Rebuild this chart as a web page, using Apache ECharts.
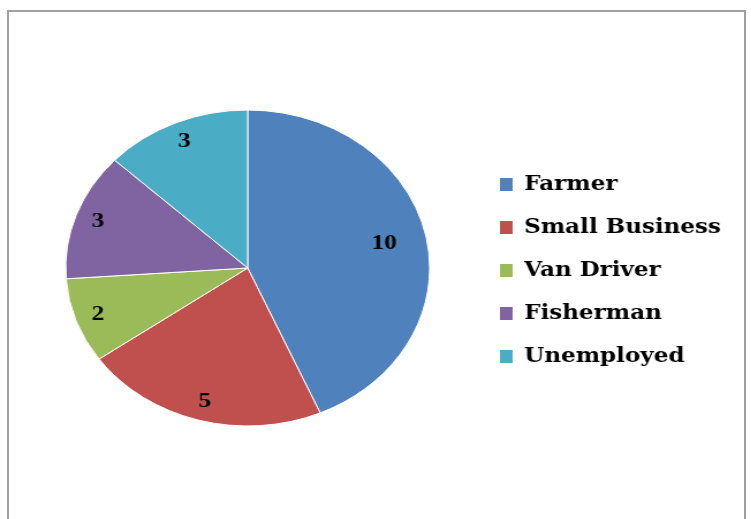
<!DOCTYPE html>
<html>
<head>
<meta charset="utf-8">
<script src="https://cdn.jsdelivr.net/npm/echarts@6/dist/echarts.min.js"></script>
<style>
html,body{margin:0;padding:0;background:#fff;overflow:hidden;width:751px;height:519px;}
#frame{position:absolute;left:7px;top:10px;width:739px;height:540px;border:2px solid #a0a0a0;box-sizing:border-box;}
#chart{position:absolute;left:0;top:0;width:652px;height:519px;transform:scaleX(1.152);transform-origin:0 0;}
</style>
</head>
<body>
<div id="frame"></div>
<div id="chart"></div>
<script>
const categories = ['Farmer', 'Small Business', 'Van Driver', 'Fisherman', 'Unemployed'];
const values = [10, 5, 2, 3, 3];

const palette = ['#4F81BD', '#C0504D', '#9BBB59', '#8064A2', '#4BACC6'];
const chart = echarts.init(document.getElementById('chart'), null, {renderer: 'canvas'});

const pieData = categories.map((c, i) => ({name: c, value: values[i]}));
const labelStyle = {
  show: true, position: 'inside', formatter: '{c}',
  color: '#000', fontFamily: 'Liberation Serif', fontWeight: 'bold', fontSize: 22
};
const center = [215, 268];

chart.setOption({
  animation: false,
  color: palette,
  legend: {
    orient: 'vertical',
    left: 429, top: 169,
    itemWidth: 11, itemHeight: 13,
    itemGap: 22,
    icon: 'rect',
    itemStyle: {borderWidth: 0},
    selectedMode: false,
    data: categories,
    textStyle: {fontFamily: 'DejaVu Serif', fontWeight: 'bold', fontSize: 20, color: '#000', lineHeight: 21, padding: [0, 0, 0, 5]}
  },
  series: [
    {
      type: 'pie', center: center, radius: 158, startAngle: 90, clockwise: true,
      silent: true,
      itemStyle: {borderColor: '#fff', borderWidth: 1},
      label: {show: false}, labelLine: {show: false},
      data: pieData
    },
    {
      // transparent helper pie placing labels of the smaller slices
      type: 'pie', center: center, radius: 270, startAngle: 90, clockwise: true,
      silent: true, legendHoverLink: false,
      itemStyle: {color: 'rgba(0,0,0,0)', borderWidth: 0},
      labelLine: {show: false},
      label: labelStyle,
      data: pieData.map((d, i) => ({name: d.name, value: d.value, label: {show: i !== 0}}))
    },
    {
      // transparent helper pie placing the label of the largest slice
      type: 'pie', center: center, radius: 236, startAngle: 90, clockwise: true,
      silent: true, legendHoverLink: false,
      itemStyle: {color: 'rgba(0,0,0,0)', borderWidth: 0},
      labelLine: {show: false},
      label: labelStyle,
      data: pieData.map((d, i) => ({name: d.name, value: d.value, label: {show: i === 0}}))
    }
  ]
});
</script>
</body>
</html>
